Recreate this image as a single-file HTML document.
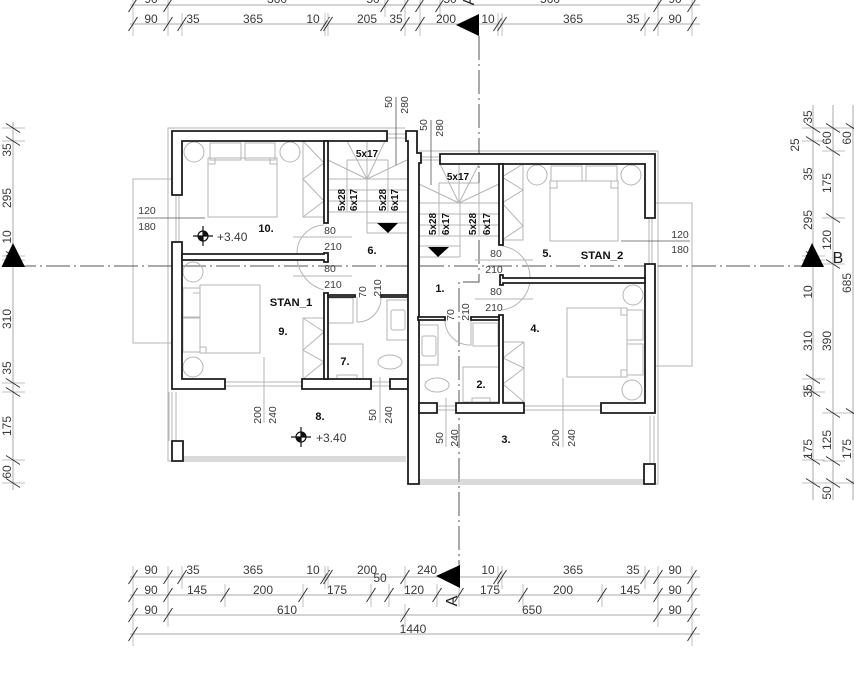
<!DOCTYPE html>
<html><head><meta charset="utf-8"><title>Floor plan</title>
<style>
html,body{margin:0;padding:0;background:#fff;width:854px;height:690px;overflow:hidden}
svg{display:block;filter:blur(.35px)}
text{font-family:"Liberation Sans",sans-serif;fill:#3a3a3a;font-size:12px}
.d{font-size:12px;text-anchor:middle}
.s{font-size:10.5px;text-anchor:middle}
.b{font-weight:bold;font-size:11px;fill:#111;text-anchor:middle}
.st{font-weight:bold;font-size:10px;fill:#111;text-anchor:middle}
.big{font-size:16px;text-anchor:middle;fill:#222}
.wall{fill:#fff;stroke:#1c1c1c;stroke-width:1.8}
.g{fill:none;stroke:#b5b5b5;stroke-width:1}
.dim{stroke:#a8a8a8;stroke-width:1;fill:none}
.cut{stroke:#555;stroke-width:1;fill:none;stroke-dasharray:24 4 2 4}
</style></head><body>
<svg width="854" height="690" viewBox="0 0 854 690" xmlns="http://www.w3.org/2000/svg">
<defs>
<g id="t"><line x1="0" y1="-11" x2="0" y2="12" stroke="#c0c0c0"/><line x1="-4.5" y1="7" x2="4.5" y2="-7" stroke="#333"/></g>
<g id="v"><line x1="-11" y1="0" x2="12" y2="0" stroke="#c0c0c0"/><line x1="-7" y1="-4.5" x2="7" y2="4.5" stroke="#333"/></g>
<g id="lv"><circle cx="0" cy="0" r="5" fill="none" stroke="#111" stroke-width="1.2"/><path d="M0 0V-5A5 5 0 0 1 5 0ZM0 0V5A5 5 0 0 1-5 0Z" fill="#111"/><path d="M-10 0H10M0-10V10" stroke="#111" stroke-width="1.2"/></g>
</defs>

<!-- balconies thin outlines -->
<path class="g" d="M172 179H133V343H172M655 203H692V366H655"/>
<path class="g" d="M405 128H168V461H406M419 151H658V484H419"/>

<!-- section lines -->
<path class="cut" d="M12 266H815"/>
<path class="cut" d="M479 36V282H459V590"/>

<!-- furniture -->
<g class="g">
<rect x="208" y="158" width="69" height="59"/><rect x="210" y="143" width="31" height="17"/><rect x="245" y="143" width="30" height="17"/>
<path d="M208 164h7v-6M277 164h-7v-6"/>
<circle cx="194" cy="152" r="10"/><circle cx="290" cy="152" r="10"/>
<path d="M303 141V217H324M303 141L324 163L303 179L324 201L303 217"/>
<rect x="550" y="181" width="68" height="60"/><rect x="551" y="166" width="31" height="15"/><rect x="586" y="166" width="31" height="15"/>
<path d="M550 188h7v-7M618 188h-7v-7"/>
<circle cx="537" cy="175" r="10"/><circle cx="631" cy="175" r="10"/>
<path d="M523 164V240H502M523 164L502 177L523 190L502 203L523 226L502 240"/>
<rect x="200" y="285" width="60" height="68"/><rect x="183" y="288" width="17" height="29"/><rect x="183" y="318" width="17" height="34"/>
<path d="M200 293h-7M200 347h6v6"/>
<circle cx="193" cy="272" r="10"/><circle cx="193" cy="367" r="10"/>
<path d="M303 318V379H324M303 318H324M303 318L324 332L303 350L324 362L303 379"/>
<rect x="567" y="308" width="60" height="69"/><rect x="627" y="310" width="16" height="30"/><rect x="627" y="344" width="16" height="31"/>
<path d="M621 308v7h6M621 377v-7h6"/>
<circle cx="633" cy="295" r="10"/><circle cx="632" cy="390" r="10"/>
<path d="M524 342V402H503M524 342H503M524 342L503 358L524 368L503 384L524 402"/>
<rect x="328" y="298" width="25" height="25"/><rect x="387" y="300" width="21" height="40"/><rect x="391" y="310" width="14" height="20" rx="2"/>
<rect x="328" y="344" width="35" height="35"/><rect x="337" y="375" width="20" height="4"/>
<ellipse cx="390" cy="362" rx="12" ry="7"/>
<rect x="473" y="323" width="25" height="23"/><rect x="419" y="325" width="19" height="40"/><rect x="422" y="336" width="14" height="20" rx="2"/>
<rect x="463" y="367" width="36" height="35"/><rect x="472" y="398" width="18" height="4"/>
<ellipse cx="437" cy="385" rx="12" ry="7"/>
<path d="M324 225A28 28 0 0 0 297 253A36 36 0 0 0 324 290"/>
<path d="M502 246A32 32 0 0 1 530 278A32 32 0 0 1 502 310"/>
<path d="M357 297V322H360A24 24 0 0 0 381 297"/>
<path d="M445 320A25 25 0 0 0 471 345V320"/>
<path d="M328 179H407M328 190H407M328 201H407M328 212H407M367 223H407M367 233H407M367 179V233"/>
<path d="M347 160V212M388 160V212M347 160H388"/>
<path d="M328 160L367 179L347 141M367 179L367 141M367 179L385 141M367 179L407 160"/>
<path d="M419 203H499M419 214H499M419 225H499M419 236H499M419 246H460M419 257H460M460 203V257"/>
<path d="M439 183V236M479 183V236M439 183H479"/>
<path d="M419 184L459 203L440 164M459 203V164M459 203L479 164M459 203L499 184"/>
</g>

<!-- windows -->
<g class="g">
<path d="M176 195V242M179 195V242"/><path d="M649 218V264M652 218V264"/>
<path d="M225 382H302M225 386H302"/><path d="M524 406H601M524 410H601"/>
<path d="M371 382H390M371 386H390"/><path d="M437 406H456M437 410H456"/>
<path d="M387 134H406M387 138H406M421 157H440M421 160H440"/>
</g>

<!-- railings -->
<g stroke="#b4b4b4" fill="none">
<path d="M169 392V441M172 392V441M176 392V441"/>
<path d="M183 457H406M183 459H406M183 461H406"/>
<path d="M419 480H644M419 482H644M419 484H644"/>
<path d="M650 416V464M654 416V464M658 416V464"/>
</g>

<!-- walls -->
<g class="wall">
<path d="M172 195V131H387V141H182V195Z"/>
<path d="M324 141H328V223H324Z"/>
<path d="M172 242H182V379H225V389H172Z"/>
<path d="M182 254H324V253H328V262H324V260H182Z"/>
<path d="M302 379H371V389H302Z"/>
<path d="M324 293H328V379H324Z"/>
<path d="M328 295H355V297H328ZM381 295H408V297H381Z"/>
<path d="M390 379H408V389H390Z"/>
<path d="M406 131H417V153H421V163H419V484H408V141H406Z"/>
<path d="M440 154H655V218H645V164H440Z"/>
<path d="M499 164H503V245H499Z"/>
<path d="M645 264H655V413H601V403H645Z"/>
<path d="M500 278V275H503V278H645V283H503V285H500Z"/>
<path d="M499 315H503V403H524V413H456V403H499Z"/>
<path d="M418 317H445V320H418ZM471 317H499V320H471Z"/>
<path d="M419 403H437V413H419Z"/>
<path d="M172 441H183V461H172Z"/>
<path d="M644 464H655V484H644Z"/>
</g>

<!-- stair arrows -->
<path d="M377 223H398L388 233Z" fill="#000"/>
<path d="M428 247H449L438 257Z" fill="#000"/>

<!-- interior dim lines -->
<g stroke="#555" stroke-width=".8" fill="none">
<path d="M396 97V165M431 120V185"/>
<path d="M137 218H205M621 241H690"/>
</g>
<g class="g">
<path d="M293 237H352M293 276H352M475 260H533M475 299H533"/>
<path d="M264 357V423M380 377V423M446 398V447M563 378V447"/>
</g>

<!-- level marks -->
<use href="#lv" x="203" y="236"/><use href="#lv" x="301" y="437"/>
<text x="217" y="241">+3.40</text>
<text x="316" y="442">+3.40</text>

<!-- room labels -->
<text class="b" x="266" y="232">10.</text>
<text class="b" x="372" y="254">6.</text>
<text class="b" x="291" y="306" style="font-size:11.3px">STAN_1</text>
<text class="b" x="283" y="335">9.</text>
<text class="b" x="345" y="365">7.</text>
<text class="b" x="320" y="420">8.</text>
<text class="b" x="440" y="292">1.</text>
<text class="b" x="547" y="257">5.</text>
<text class="b" x="602" y="259" style="font-size:11.3px">STAN_2</text>
<text class="b" x="535" y="332">4.</text>
<text class="b" x="481" y="388">2.</text>
<text class="b" x="506" y="443">3.</text>

<!-- stair labels -->
<text class="st" x="367" y="157">5x17</text>
<text class="st" x="458" y="180">5x17</text>
<text class="st" transform="translate(345,200) rotate(-90)">5x28</text>
<text class="st" transform="translate(357,200) rotate(-90)">6x17</text>
<text class="st" transform="translate(386,200) rotate(-90)">5x28</text>
<text class="st" transform="translate(398,200) rotate(-90)">6x17</text>
<text class="st" transform="translate(436,224) rotate(-90)">5x28</text>
<text class="st" transform="translate(449,224) rotate(-90)">6x17</text>
<text class="st" transform="translate(476,224) rotate(-90)">5x28</text>
<text class="st" transform="translate(490,224) rotate(-90)">6x17</text>

<!-- interior dim text -->
<g>
<text class="s" x="330" y="234">80</text><text class="s" x="333" y="250">210</text>
<text class="s" x="330" y="272">80</text><text class="s" x="333" y="288">210</text>
<text class="s" x="496" y="257">80</text><text class="s" x="494" y="273">210</text>
<text class="s" x="496" y="295">80</text><text class="s" x="494" y="311">210</text>
<text class="s" x="147" y="214">120</text><text class="s" x="147" y="230">180</text>
<text class="s" x="680" y="238">120</text><text class="s" x="680" y="253">180</text>
<text class="s" transform="translate(392,102) rotate(-90)">50</text>
<text class="s" transform="translate(408,105) rotate(-90)">280</text>
<text class="s" transform="translate(427,125) rotate(-90)">50</text>
<text class="s" transform="translate(443,128) rotate(-90)">280</text>
<text class="s" transform="translate(366,292) rotate(-90)">70</text>
<text class="s" transform="translate(381,288) rotate(-90)">210</text>
<text class="s" transform="translate(454,315) rotate(-90)">70</text>
<text class="s" transform="translate(469,312) rotate(-90)">210</text>
<text class="s" transform="translate(261,415) rotate(-90)">200</text>
<text class="s" transform="translate(276,415) rotate(-90)">240</text>
<text class="s" transform="translate(376,415) rotate(-90)">50</text>
<text class="s" transform="translate(392,415) rotate(-90)">240</text>
<text class="s" transform="translate(443,438) rotate(-90)">50</text>
<text class="s" transform="translate(458,438) rotate(-90)">240</text>
<text class="s" transform="translate(559,438) rotate(-90)">200</text>
<text class="s" transform="translate(575,438) rotate(-90)">240</text>
</g>

<!-- top dims -->
<path class="dim" d="M130 5H700M130 24H700"/>
<g>
<use href="#t" x="133" y="5"/><use href="#t" x="168" y="5"/><use href="#t" x="385" y="5"/><use href="#t" x="405" y="5"/><use href="#t" x="420" y="5"/><use href="#t" x="440" y="5"/><use href="#t" x="658" y="5"/><use href="#t" x="692" y="5"/>
<use href="#t" x="133" y="24"/><use href="#t" x="168" y="24"/><use href="#t" x="182" y="24"/><use href="#t" x="325" y="24"/><use href="#t" x="328" y="24"/><use href="#t" x="405" y="24"/><use href="#t" x="420" y="24"/><use href="#t" x="498" y="24"/><use href="#t" x="502" y="24"/><use href="#t" x="645" y="24"/><use href="#t" x="658" y="24"/><use href="#t" x="692" y="24"/>
</g>
<g>
<text class="d" x="151" y="3">90</text><text class="d" x="277" y="3">360</text><text class="d" x="373" y="3">50</text><text class="d" x="450" y="3">50</text><text class="d" x="550" y="3">560</text><text class="d" x="675" y="3">90</text>
<text class="d" x="151" y="23">90</text><text class="d" x="193" y="23">35</text><text class="d" x="253" y="23">365</text><text class="d" x="313" y="23">10</text><text class="d" x="367" y="23">205</text><text class="d" x="396" y="23">35</text><text class="d" x="446" y="23">200</text><text class="d" x="488" y="23">10</text><text class="d" x="573" y="23">365</text><text class="d" x="633" y="23">35</text><text class="d" x="675" y="23">90</text>
</g>
<path d="M456 25L479 14V36Z" fill="#000"/>
<text class="big" transform="translate(474,0) rotate(-90)">A</text>

<!-- bottom dims -->
<path class="dim" d="M130 577H700M130 595H700M130 615H700M130 634H700"/>
<g>
<use href="#t" x="133" y="577"/><use href="#t" x="168" y="577"/><use href="#t" x="182" y="577"/><use href="#t" x="325" y="577"/><use href="#t" x="328" y="577"/><use href="#t" x="405" y="577"/><use href="#t" x="498" y="577"/><use href="#t" x="502" y="577"/><use href="#t" x="645" y="577"/><use href="#t" x="658" y="577"/><use href="#t" x="692" y="577"/>
<use href="#t" x="133" y="595"/><use href="#t" x="168" y="595"/><use href="#t" x="225" y="595"/><use href="#t" x="303" y="595"/><use href="#t" x="371" y="595"/><use href="#t" x="389" y="595"/><use href="#t" x="437" y="595"/><use href="#t" x="459" y="595"/><use href="#t" x="523" y="595"/><use href="#t" x="602" y="595"/><use href="#t" x="658" y="595"/><use href="#t" x="692" y="595"/>
<use href="#t" x="133" y="615"/><use href="#t" x="168" y="615"/><use href="#t" x="405" y="615"/><use href="#t" x="658" y="615"/><use href="#t" x="692" y="615"/>
<use href="#t" x="133" y="634"/><use href="#t" x="692" y="634"/>
</g>
<g>
<text class="d" x="151" y="574">90</text><text class="d" x="193" y="574">35</text><text class="d" x="253" y="574">365</text><text class="d" x="313" y="574">10</text><text class="d" x="367" y="574">200</text><text class="d" x="380" y="582">50</text><text class="d" x="427" y="574">240</text><text class="d" x="488" y="574">10</text><text class="d" x="573" y="574">365</text><text class="d" x="633" y="574">35</text><text class="d" x="675" y="574">90</text>
<text class="d" x="151" y="594">90</text><text class="d" x="197" y="594">145</text><text class="d" x="263" y="594">200</text><text class="d" x="337" y="594">175</text><text class="d" x="414" y="594">120</text><text class="d" x="490" y="594">175</text><text class="d" x="563" y="594">200</text><text class="d" x="630" y="594">145</text><text class="d" x="675" y="594">90</text>
<text class="d" x="151" y="614">90</text><text class="d" x="287" y="614">610</text><text class="d" x="532" y="614">650</text><text class="d" x="675" y="614">90</text>
<text class="d" x="413" y="633">1440</text>
</g>
<path d="M436 576L460 565V588Z" fill="#000"/>
<text class="big" transform="translate(457,601) rotate(-90)">A</text>

<!-- left dims -->
<path class="dim" d="M13 122V490"/>
<g>
<use href="#v" x="13" y="128"/><use href="#v" x="13" y="141"/><use href="#v" x="13" y="256"/><use href="#v" x="13" y="260"/><use href="#v" x="13" y="383"/><use href="#v" x="13" y="392"/><use href="#v" x="13" y="460"/><use href="#v" x="13" y="483"/>
</g>
<g>
<text class="d" transform="translate(11,150) rotate(-90)">35</text>
<text class="d" transform="translate(11,198) rotate(-90)">295</text>
<text class="d" transform="translate(11,237) rotate(-90)">10</text>
<text class="d" transform="translate(11,319) rotate(-90)">310</text>
<text class="d" transform="translate(11,368) rotate(-90)">35</text>
<text class="d" transform="translate(11,426) rotate(-90)">175</text>
<text class="d" transform="translate(11,472) rotate(-90)">60</text>
</g>
<path d="M13 243L25 267H1.5Z" fill="#000"/>

<!-- right dims -->
<path class="dim" d="M813 105V500M833 105V500M853 105V500"/>
<g>
<use href="#v" x="813" y="128"/><use href="#v" x="813" y="141"/><use href="#v" x="813" y="256"/><use href="#v" x="813" y="260"/><use href="#v" x="813" y="379"/><use href="#v" x="813" y="392"/><use href="#v" x="813" y="460"/><use href="#v" x="813" y="483"/>
<use href="#v" x="833" y="128"/><use href="#v" x="833" y="151"/><use href="#v" x="833" y="218"/><use href="#v" x="833" y="264"/><use href="#v" x="833" y="413"/><use href="#v" x="833" y="461"/><use href="#v" x="833" y="483"/>
<use href="#v" x="853" y="128"/><use href="#v" x="853" y="413"/><use href="#v" x="853" y="483"/>
</g>
<g>
<text class="d" transform="translate(812,117) rotate(-90)">35</text>
<text class="d" transform="translate(799,145) rotate(-90)">25</text>
<text class="d" transform="translate(812,174) rotate(-90)">35</text>
<text class="d" transform="translate(812,220) rotate(-90)">295</text>
<text class="d" transform="translate(812,292) rotate(-90)">10</text>
<text class="d" transform="translate(812,341) rotate(-90)">310</text>
<text class="d" transform="translate(812,391) rotate(-90)">35</text>
<text class="d" transform="translate(812,449) rotate(-90)">175</text>
<text class="d" transform="translate(831,138) rotate(-90)">60</text>
<text class="d" transform="translate(831,183) rotate(-90)">175</text>
<text class="d" transform="translate(831,240) rotate(-90)">120</text>
<text class="d" transform="translate(831,341) rotate(-90)">390</text>
<text class="d" transform="translate(831,440) rotate(-90)">125</text>
<text class="d" transform="translate(831,493) rotate(-90)">50</text>
<text class="d" transform="translate(851,138) rotate(-90)">60</text>
<text class="d" transform="translate(851,283) rotate(-90)">685</text>
<text class="d" transform="translate(851,449) rotate(-90)">175</text>
</g>
<path d="M812 243L824 267H801Z" fill="#000"/>
<text class="big" x="838" y="263">B</text>
</svg>
</body></html>
